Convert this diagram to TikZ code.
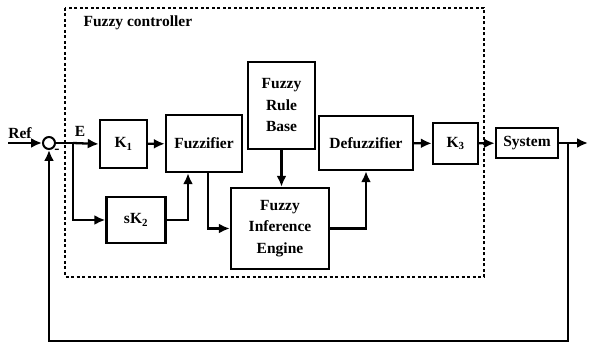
\documentclass[tikz,border=0pt]{standalone}
\usepackage{fontspec}
\setmainfont{Liberation Serif}
\usepackage{tikz}
\usetikzlibrary{positioning}
\usetikzlibrary{arrows.meta, shapes, calc}

\begin{document}
\begin{tikzpicture}[>={Latex[length=11pt,width=10pt]}, x=1pt, y=-1pt, font=\bfseries\fontsize{15.5}{21.5}\selectfont]%

            \tikzstyle{blk} = [ rectangle, line width=2.4pt, draw = black!100, fill = white, inner sep = 0pt, align = center]
            \tikzstyle{sum} = [ circle, line width=2pt, draw = black!100, fill = white, minimum size = 12pt, inner sep = 0pt]
            \tikzstyle{post} = [ ->, line width=2.3pt]
            \tikzstyle{wire} = [ line width=2.3pt]
            \tikzstyle{ctrl} = [ line width=2.2pt, dash pattern = on 3pt off 2.5pt]
        %
            \useasboundingbox (0,0) rectangle (589,347);

            %% Controller frame
            \draw[ctrl] (65,8) rectangle (484,277);
            \node [anchor = west] (title) at (80,23) {Fuzzy controller};

            %% Blocks
            \node [sum] (s) at (49,143) {};
            \node [blk, minimum width = 47pt, minimum height = 48pt] (k1) at (123.5,144) {K\textsubscript{1}};
            \node [blk, minimum width = 59pt, minimum height = 46pt] (sk2) at (136,220) {sK\textsubscript{2}};
            \node [blk, minimum width = 76pt, minimum height = 57pt] (fuzz) at (204,143.5) {Fuzzifier};
            \node [blk, minimum width = 67pt, minimum height = 87pt] (rule) at (281.5,105.5) {Fuzzy\\Rule\\Base};
            \node [blk, minimum width = 98pt, minimum height = 81pt] (fie) at (280,228.5) {Fuzzy\\Inference\\Engine};
            \node [blk, minimum width = 94pt, minimum height = 54pt] (defuzz) at (366,143) {Defuzzifier};
            \node [blk, minimum width = 45pt, minimum height = 41pt] (k3) at (455.5,143.5) {K\textsubscript{3}};
            \node [blk, minimum width = 62pt, minimum height = 30pt] (sys) at (527,143) {System};

            %% Signal points
            \coordinate (ref) at (8,143);
            \coordinate (e) at (73,143);
            \coordinate (out) at (588,143);
            \coordinate (y) at (568,143);
            \coordinate (fb) at (568,341);

            \node (ref_l) at (20,133) {Ref};
            \node (e_l) at (80,131) {E};
            \node (minus) at (57,151) {-};

            %% Forward path
            \draw[post] (ref) -- (s.west);
            \draw[wire] (s.east) -- (e);
            \draw[post] (e) -- (k1.west);
            \draw[post] (e) |- (sk2.west);
            \draw[post] (k1) -- (fuzz);
            \draw[post] (sk2.east) -| ([xshift=-16pt]fuzz.south);
            \draw[post] ([xshift=4pt]fuzz.south) |- (fie.west);
            \draw[post] (rule.south) -- (rule.south |- fie.north);
            \draw[post] (fie.east) -| (defuzz.south);
            \draw[post] (defuzz) -- (k3);
            \draw[post] (k3) -- (sys);
            \draw[post] (sys.east) -- (out);

            %% Feedback
            \draw[post] (y) -- (fb) -| (s.south);
        \end{tikzpicture}
\end{document}
